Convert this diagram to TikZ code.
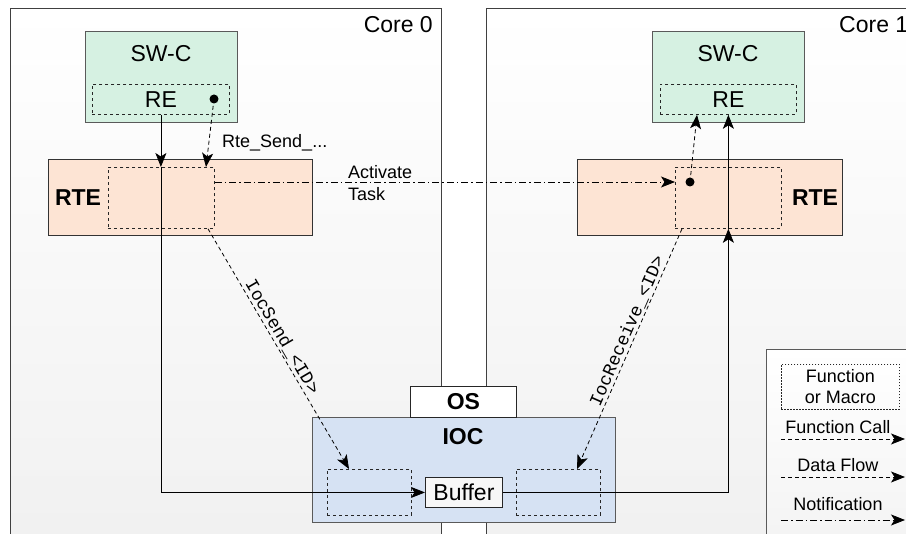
\documentclass[tikz,border=0pt]{standalone}
\usepackage{fontspec}
\setmainfont{Liberation Sans}
\setmonofont{Liberation Mono}
\usetikzlibrary{arrows.meta,calc}
\definecolor{swc}{RGB}{214,241,226}
\definecolor{rtec}{RGB}{253,228,212}
\definecolor{iocc}{RGB}{214,226,243}
\definecolor{bord}{RGB}{90,90,90}
\definecolor{bgbot}{RGB}{240,240,240}
\newcommand{\bigf}{\fontsize{23}{27}\selectfont}
\newcommand{\smallf}{\fontsize{18}{22}\selectfont}
\tikzset{
  rectbox/.style={draw=bord, line width=0.9pt, inner sep=0pt, anchor=north west, rectangle},
  corebox/.style={rectbox, top color=white, bottom color=bgbot, draw=black!75},
  fnbox/.style={draw=black!85, line width=0.8pt, dash pattern=on 3pt off 3pt, inner sep=0pt, anchor=north west, rectangle},
  arr/.style={-{Stealth[length=14pt,width=11pt,inset=3.5pt]}, line width=0.8pt},
  fcall/.style={arr, dash pattern=on 4pt off 3pt},
  notif/.style={arr, dash pattern=on 7pt off 3pt on 1.5pt off 3pt},
  lbl/.style={font=\bigf, inner sep=0pt},
  slbl/.style={font=\smallf, inner sep=0pt},
}
\begin{document}
\begin{tikzpicture}[x=1pt,y=-1pt]
\useasboundingbox (0,0) rectangle (906,534);
\clip (0,0) rectangle (906,534);
\fill[white] (0,0) rectangle (906,534);
% cores
\node[corebox, minimum width=431, minimum height=560] (core0) at (10,8) {};
\node[corebox, minimum width=450, minimum height=560] (core1) at (486,8) {};
\node[lbl, anchor=east] (c0l) at (433,25) {Core 0};
\node[lbl, anchor=west] (c1l) at (839,25) {Core 1};
% legend
\node[corebox, draw=bord, minimum width=200, minimum height=250] (leg) at (766,349) {};
\node[fnbox, dash pattern=on 1.5pt off 1.5pt, minimum width=118, minimum height=45] (lgbox) at (781,364) {};
\node[slbl, align=center] (lgtxt) at (lgbox.center) {Function\\[-1pt]or Macro};
\coordinate (fa) at (781,439); \coordinate (fb) at (905,439);
\coordinate (da) at (781,477); \coordinate (db) at (905,477);
\coordinate (na) at (781,520); \coordinate (nb) at (905,520);
\draw[fcall] (fa) -- (fb);
\draw[fcall] (da) -- (db);
\draw[notif] (na) -- (nb);
\node[slbl] (lfc) at (838,427) {Function Call};
\node[slbl] (ldf) at (838,465) {Data Flow};
\node[slbl] (lno) at (838,504) {Notification};
% core 0 boxes
\node[rectbox, fill=swc, minimum width=152, minimum height=91] (sw0) at (85,31) {};
\node[lbl] (sw0t) at (161,54) {SW-C};
\node[fnbox, minimum width=137, minimum height=30, font=\bigf] (re0) at (92,84) {RE};
\fill (214,99) circle (4.5) coordinate (dot0);
\node[rectbox, draw=black!80, fill=rtec, minimum width=264, minimum height=76] (rte0) at (48,159) {};
\node[lbl, font=\bigf\bfseries] (rte0t) at (78,198) {RTE};
\node[fnbox, minimum width=106, minimum height=61] (in0) at (108,167) {};
% core 1 boxes
\node[rectbox, fill=swc, minimum width=152, minimum height=91] (sw1) at (652,31) {};
\node[lbl] (sw1t) at (728,54) {SW-C};
\node[fnbox, minimum width=136, minimum height=30, font=\bigf] (re1) at (660,84) {RE};
\node[rectbox, draw=black!80, fill=rtec, minimum width=265, minimum height=76] (rte1) at (577,159) {};
\node[lbl, font=\bigf\bfseries] (rte1t) at (815,198) {RTE};
\node[fnbox, minimum width=106, minimum height=61] (in1) at (675,167) {};
\fill (690,182) circle (4.5) coordinate (dot1);
% OS / IOC
\node[rectbox, fill=iocc, minimum width=303, minimum height=105] (ioc) at (312,417) {};
\node[rectbox, draw=black!85, fill=white, minimum width=106, minimum height=31] (os) at (410,386) {};
\node[lbl, font=\bigf\bfseries] (ost) at (os.center) {OS};
\node[lbl, font=\bigf\bfseries] (ioct) at (463,437) {IOC};
\node[fnbox, minimum width=84, minimum height=46] (ioL) at (327,469) {};
\node[fnbox, minimum width=84, minimum height=46] (ioR) at (516,469) {};
\node[rectbox, draw=black!85, fill=white!97!black, minimum width=77, minimum height=30, font=\bigf] (buf) at (425,477) {Buffer};
% data flow
\coordinate (j0) at (re0.south |- in0.north);
\coordinate (k0) at (re0.south |- buf.west);
\draw[arr] (re0.south) -- (j0);
\draw[arr] (j0) -- (k0) -- (buf.west);
\coordinate (k1) at (re1.south |- buf.east);
\coordinate (j1) at (re1.south |- in1.south);
\draw[arr] (buf.east) -- (k1) -- (j1);
\draw[arr] (j1) -- (re1.south);
% function calls
\draw[fcall] (dot0) -- ($(in0.north west)+(98,0)$);
\node[slbl, anchor=west] (rsend) at (222,143) {Rte\_Send\_...};
\draw[fcall] (dot1) -- ($(re1.south west)+(37,0)$);
\draw[fcall] ($(in0.south west)+(100,0)$) -- node[sloped, above, pos=0.47, inner sep=1.5pt, font=\ttfamily\smallf] (isend) {IocSend\_<ID>} ($(ioL.north west)+(22,0)$);
\draw[fcall] ($(in1.south west)+(7,0)$) -- node[sloped, above, pos=0.44, inner sep=1.5pt, font=\ttfamily\smallf] (ircv) {IocReceive\_<ID>} ($(ioR.north west)+(61,0)$);
% notification
\draw[notif] ($(in0.north east)+(0,15)$) -- ($(in1.north west)+(0,15)$);
\node[slbl, anchor=west, align=left] (act) at (348,183) {Activate\\[0pt]Task};
\end{tikzpicture}
\end{document}
